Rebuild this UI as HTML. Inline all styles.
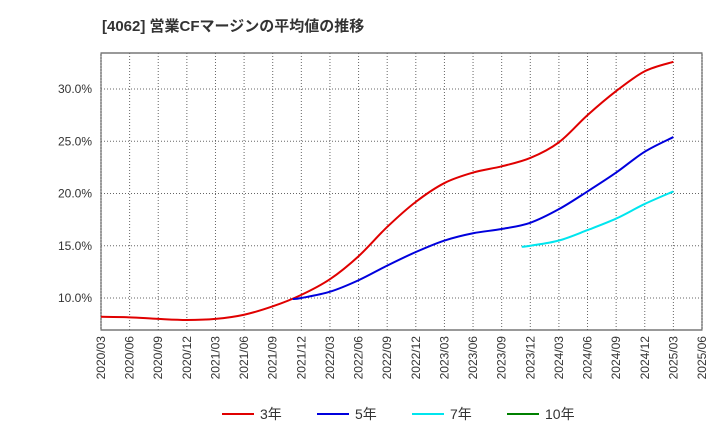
<!DOCTYPE html>
<html><head><meta charset="utf-8"><style>
body{margin:0;background:#fff;width:720px;height:440px;overflow:hidden;font-family:"Liberation Sans","Noto Sans CJK JP",sans-serif}
</style></head><body>
<svg id="chart" width="720" height="440" xmlns="http://www.w3.org/2000/svg">
<text x="102" y="31" font-size="15" font-weight="bold" fill="#333" font-family="Liberation Sans, Noto Sans CJK JP, sans-serif">[4062]  営業CFマージンの平均値の推移</text>
<rect x="101" y="53" width="601" height="277" fill="#fff" stroke="#333" stroke-width="1"/>
<g id="grid"></g><g id="series"></g><g id="axes"></g><g id="legend"></g>
</svg>
<script>
const xLabels=["2020/03","2020/06","2020/09","2020/12","2021/03","2021/06","2021/09","2021/12","2022/03","2022/06","2022/09","2022/12","2023/03","2023/06","2023/09","2023/12","2024/03","2024/06","2024/09","2024/12","2025/03","2025/06"];
const yTicks=[10,15,20,25,30];
const s3Start=0;
const s3=[8.2,8.15,8.0,7.9,8.0,8.4,9.2,10.3,11.8,14.0,16.8,19.2,21.0,22.0,22.6,23.4,24.9,27.5,29.8,31.7,32.6];
const s5Start=6.7;
const s5=[9.9,10.0,10.6,11.7,13.1,14.4,15.5,16.2,16.6,17.2,18.5,20.2,22.0,24.0,25.4];
const s7Start=14.7;
const s7=[14.9,15.0,15.5,16.5,17.6,19.0,20.2];
const NS="http://www.w3.org/2000/svg";
const X=i=>101+i*(601/21);
const Y=v=>298-(v-10)*10.45;
function mk(t,a,p){const e=document.createElementNS(NS,t);for(const k in a)e.setAttribute(k,a[k]);p.appendChild(e);return e;}
const grid=document.getElementById('grid'),axes=document.getElementById('axes'),ser=document.getElementById('series'),leg=document.getElementById('legend');
xLabels.forEach((l,i)=>{
 const g=mk('line',{x1:X(i),x2:X(i),y1:53,y2:330,stroke:'#666','stroke-dasharray':'1,2'},grid);
 
 
 const t=mk('text',{x:0,y:0,'font-size':12,fill:'#333','text-anchor':'end',transform:`translate(${X(i)+4},336) rotate(-90)`},axes);
 t.textContent=l;
 
 
});
yTicks.forEach(v=>{
 const g=mk('line',{x1:101,x2:702,y1:Y(v),y2:Y(v),stroke:'#666','stroke-dasharray':'1,2'},grid);
 
 
 const t=mk('text',{x:92,y:Y(v)+4,'font-size':12,fill:'#333','text-anchor':'end'},axes);
 t.textContent=v.toFixed(1)+'%';
 
 
});
function path(vals,start){
 const pts=vals.map((v,i)=>[X(start+(i===0?0:(Math.ceil(start)-start)+i-1)),Y(v)]);
 if(start===Math.ceil(start)) pts.forEach((p,i)=>p[0]=X(start+i));
 let d='M'+pts[0][0]+','+pts[0][1];
 for(let i=1;i<pts.length;i++){
  const p0=pts[Math.max(0,i-2)],p1=pts[i-1],p2=pts[i],p3=pts[Math.min(pts.length-1,i+1)];
  const c1=[p1[0]+(p2[0]-p0[0])/6,p1[1]+(p2[1]-p0[1])/6],c2=[p2[0]-(p3[0]-p1[0])/6,p2[1]-(p3[1]-p1[1])/6];
  d+=`C${c1[0]},${c1[1]} ${c2[0]},${c2[1]} ${p2[0]},${p2[1]}`;
 }
 return d;
}
[[s3,s3Start,'#e00000','line-3yr'],[s5,s5Start,'#0000dd','line-5yr'],[s7,s7Start,'#00e5ee','line-7yr']].forEach(([v,s,c,n])=>{
 const p=mk('path',{d:path(v,s),fill:'none',stroke:c,'stroke-width':2},ser);
 
 
});
[['3年','#e00000',222],['5年','#0000dd',317],['7年','#00e5ee',412],['10年','#008000',507]].forEach(([l,c,x])=>{
 const g=mk('g',{},leg);
 
 
 mk('line',{x1:x,x2:x+32,y1:414,y2:414,stroke:c,'stroke-width':2},g);
 const t=mk('text',{x:x+38,y:419,'font-size':14,fill:'#333'},g);
 t.textContent=l;
});
</script>
</body></html>
